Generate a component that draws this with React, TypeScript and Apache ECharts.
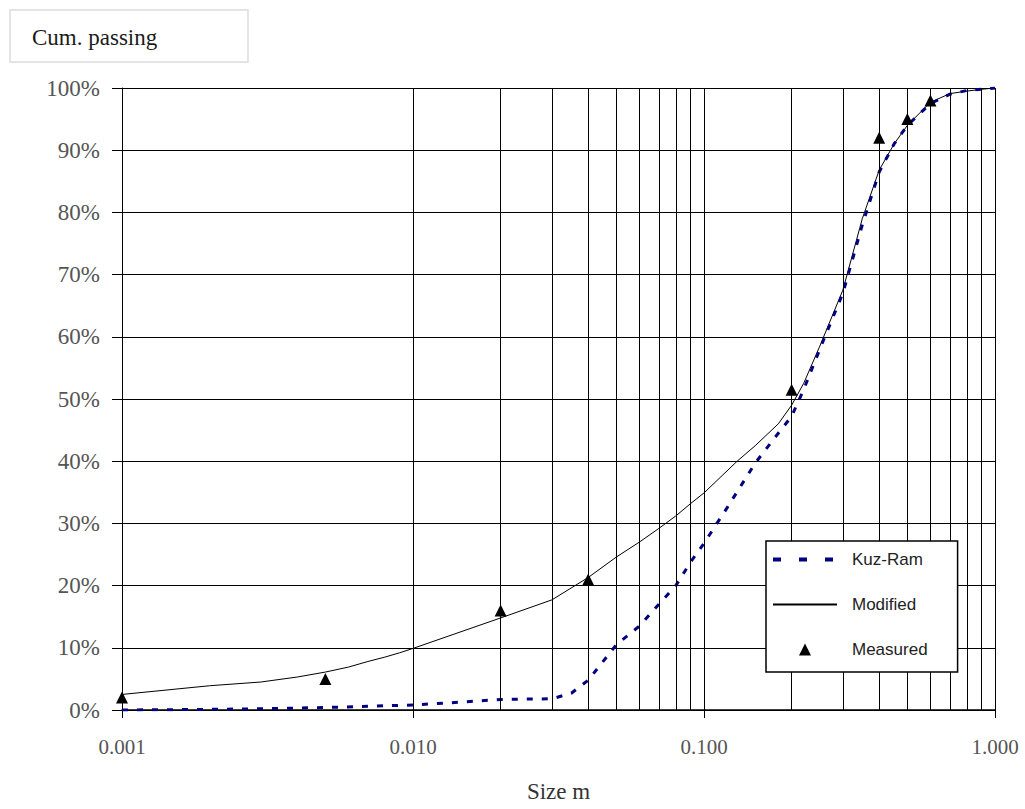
import React, { useEffect, useRef } from "react";
import * as echarts from "echarts";

// Particle size (m) and cumulative passing (%)
const kuzSizes = [0.001, 0.002, 0.003, 0.005, 0.007, 0.01, 0.015, 0.02, 0.03, 0.035, 0.04, 0.05, 0.06, 0.07, 0.08, 0.09, 0.1, 0.12, 0.15, 0.18, 0.2, 0.22, 0.25, 0.3, 0.35, 0.4, 0.45, 0.5, 0.6, 0.7, 0.8, 1.0];
const kuzPassing = [0, 0.1, 0.2, 0.4, 0.6, 0.8, 1.3, 1.7, 1.8, 2.7, 4.8, 10.5, 13.5, 17, 20, 23.8, 26.8, 32.5, 39.7, 44.5, 47.2, 51.5, 58, 67, 78, 86.5, 91, 94, 97.5, 99, 99.6, 100];

const modSizes = [0.001, 0.002, 0.003, 0.004, 0.005, 0.006, 0.007, 0.008, 0.009, 0.01, 0.02, 0.03, 0.04, 0.05, 0.06, 0.07, 0.08, 0.09, 0.1, 0.13, 0.15, 0.18, 0.2, 0.22, 0.25, 0.3, 0.35, 0.4, 0.45, 0.5, 0.6, 0.7, 0.8, 0.9, 1.0];
const modPassing = [2.5, 3.9, 4.5, 5.3, 6.1, 6.9, 7.8, 8.5, 9.2, 9.9, 14.8, 17.7, 21.3, 24.6, 27, 29.2, 31.2, 33.2, 34.9, 40, 42.5, 46, 49, 52.5, 58.5, 67.5, 79, 86.8, 91, 94, 97.7, 99.1, 99.5, 99.8, 100];

const measSizes = [0.001, 0.005, 0.02, 0.04, 0.2, 0.4, 0.5, 0.6];
const measPassing = [2, 5, 16, 21, 51.5, 92, 95, 98];

const minorGrid = [
  0.002, 0.003, 0.004, 0.005, 0.006, 0.007, 0.008, 0.009,
  0.02, 0.03, 0.04, 0.05, 0.06, 0.07, 0.08, 0.09,
  0.2, 0.3, 0.4, 0.5, 0.6, 0.7, 0.8, 0.9,
];

const titleText = "Cum. passing";
const xName = "Size m";
const seriesNames = ["Kuz-Ram", "Modified", "Measured"];

const zip = (xs: number[], ys: number[]) => xs.map((x, i) => [x, ys[i]]);

export default function App() {
  const ref = useRef<HTMLDivElement>(null);
  useEffect(() => {
    if (!ref.current) return;
    const chart = echarts.init(ref.current, null, { renderer: "svg" });
    const serif = "'Liberation Serif', 'Times New Roman', serif";
    const sans = "'Liberation Sans', Arial, sans-serif";
    chart.setOption({
      animation: false,
      backgroundColor: "#fff",
      grid: { left: 122, right: 30, top: 88, bottom: 99 },
      xAxis: {
        type: "log",
        logBase: 10,
        min: 0.001,
        max: 1,
        name: xName,
        nameLocation: "middle",
        nameGap: 70,
        nameTextStyle: { fontFamily: serif, fontSize: 23, color: "#333" },
        axisLine: { show: true, lineStyle: { color: "#000", width: 1.5 } },
        axisTick: { show: true, length: 8, lineStyle: { color: "#000", width: 1 } },
        axisLabel: {
          fontFamily: serif,
          fontSize: 21,
          color: "#555",
          margin: 26,
          formatter: (v: number) => v.toFixed(3),
        },
        splitLine: { show: true, lineStyle: { color: "#000", width: 1 } },
      },
      yAxis: {
        type: "value",
        min: 0,
        max: 100,
        interval: 10,
        axisLine: { show: true, lineStyle: { color: "#000", width: 1 } },
        axisTick: { show: true, length: 10, lineStyle: { color: "#000", width: 1 } },
        axisLabel: {
          fontFamily: serif,
          fontSize: 23,
          color: "#555",
          margin: 22,
          formatter: "{value}%",
        },
        splitLine: { show: true, lineStyle: { color: "#000", width: 1 } },
      },
      legend: {
        orient: "vertical",
        left: 766,
        top: 541,
        backgroundColor: "#fff",
        borderColor: "#000",
        borderWidth: 1.5,
        borderRadius: 0,
        padding: [10, 30, 14, 5],
        itemWidth: 64,
        itemHeight: 12,
        itemGap: 28,
        z: 10,
        textStyle: { fontFamily: sans, fontSize: 17, color: "#222", padding: [0, 0, 0, 10] },
        data: [
          {
            name: seriesNames[0],
            itemStyle: { opacity: 0 },
            lineStyle: { type: [8, 18], width: 4, color: "#000080" },
          },
          { name: seriesNames[1], itemStyle: { opacity: 0 } },
          {
            name: seriesNames[2],
            icon: "path://M5,0L10,10L0,10Z",
            itemStyle: { color: "#000", opacity: 1 },
          },
        ],
      },
      graphic: [
        {
          type: "rect",
          shape: { x: 10, y: 10, width: 238, height: 52 },
          style: { fill: "#fff", stroke: "#dcdcdc", lineWidth: 1.5 },
        },
        {
          type: "text",
          x: 32,
          y: 37,
          style: {
            text: titleText,
            fontFamily: serif,
            fontSize: 23,
            fill: "#1a1a1a",
            verticalAlign: "middle",
          },
        },
      ],
      series: [
        {
          name: "grid",
          type: "line",
          data: [],
          silent: true,
          z: 1,
          markLine: {
            silent: true,
            symbol: ["none", "none"],
            label: { show: false },
            lineStyle: { color: "#000", width: 1, type: "solid" },
            emphasis: { disabled: true },
            data: minorGrid.map((v) => ({ xAxis: v })),
          },
        },
        {
          name: seriesNames[1],
          type: "line",
          data: zip(modSizes, modPassing),
          symbol: "none",
          color: "#000",
          lineStyle: { color: "#000", width: 1 },
          z: 3,
        },
        {
          name: seriesNames[0],
          type: "line",
          data: zip(kuzSizes, kuzPassing),
          symbol: "none",
          color: "#000080",
          lineStyle: { color: "#000080", width: 3, type: [6, 9] },
          z: 4,
        },
        {
          name: seriesNames[2],
          type: "scatter",
          data: zip(measSizes, measPassing),
          symbol: "triangle",
          symbolSize: 12,
          itemStyle: { color: "#000", opacity: 1 },
          z: 5,
        },
      ],
    });
    return () => chart.dispose();
  }, []);
  return (
    <div
      ref={ref}
      style={{ position: "fixed", left: 0, top: 0, width: 1025, height: 809 }}
    />
  );
}
